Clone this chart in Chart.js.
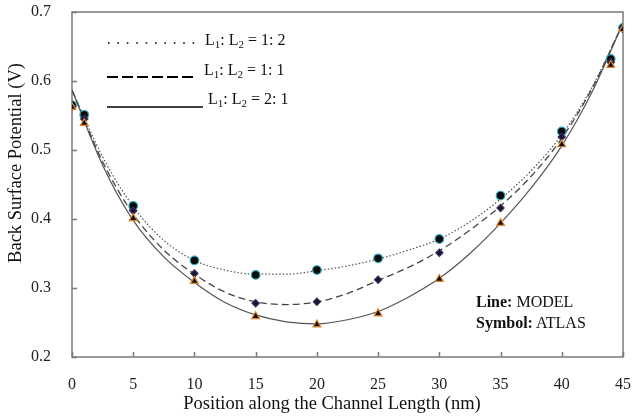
<!DOCTYPE html>
<html>
<head>
<meta charset="utf-8">
<script src="https://cdn.jsdelivr.net/npm/chart.js@4"></script>
<style>
  body { margin: 0; background: #fff; }
  #wrap { position: relative; width: 632px; height: 419px; font-family: "Liberation Serif", serif; color: #111; }
  #wrap canvas { position: absolute; left: 0; top: 0; }
  .ov { position: absolute; white-space: nowrap; line-height: 1; }
  .leg { font-size: 16px; transform: translateY(-50%); }
  .leg sub { font-size: 11px; vertical-align: -3px; }
  .note { font-size: 16px; transform: translateY(-50%); }
  .note b { font-weight: bold; }
  #xtitle { font-size: 18.5px; left: 332px; top: 403px; transform: translate(-50%, -50%); }
  #ytitle { font-size: 18.5px; left: 15px; top: 163px; transform: translate(-50%, -50%) rotate(-90deg); }
</style>
</head>
<body>
<div id="wrap">
  <canvas id="chartPotential"></canvas>
  <svg class="ov" style="left:0;top:0" width="632" height="419">
    <line x1="108" y1="43" x2="196" y2="43" stroke="#000" stroke-width="1.6" stroke-dasharray="1.6 7.8"/>
    <line x1="107" y1="77" x2="193" y2="77" stroke="#000" stroke-width="2" stroke-dasharray="11 4"/>
    <line x1="107" y1="107" x2="203" y2="107" stroke="#000" stroke-width="1.5"/>
  </svg>
  <div class="ov leg" style="left:205px;top:41px">L<sub>1</sub>: L<sub>2</sub> = 1: 2</div>
  <div class="ov leg" style="left:204px;top:71px">L<sub>1</sub>: L<sub>2</sub> = 1: 1</div>
  <div class="ov leg" style="left:208px;top:100px">L<sub>1</sub>: L<sub>2</sub> = 2: 1</div>
  <div class="ov note" style="left:476px;top:302px"><b>Line:</b> MODEL</div>
  <div class="ov note" style="left:476px;top:323px"><b>Symbol:</b> ATLAS</div>
  <div class="ov" id="xtitle">Position along the Channel Length (nm)</div>
  <div class="ov" id="ytitle">Back Surface Potential (V)</div>
</div>
<script>
// ATLAS simulation points (symbols)
var atlasX = [0, 1, 5, 10, 15, 20, 25, 30, 35, 40, 44, 45];
var atlas12 = [0.565, 0.551, 0.419, 0.340, 0.319, 0.326, 0.343, 0.371, 0.434, 0.527, 0.632, 0.677];
var atlas11 = [0.563, 0.545, 0.412, 0.321, 0.278, 0.280, 0.312, 0.351, 0.416, 0.519, 0.627, 0.676];
var atlas21 = [0.562, 0.539, 0.401, 0.310, 0.259, 0.247, 0.263, 0.313, 0.394, 0.508, 0.623, 0.675];

// model curves
var modelX = [0, 2.5, 5, 7.5, 10, 12.5, 15, 17.5, 20, 22.5, 25, 27.5, 30, 32.5, 35, 37.5, 40, 42.5, 45];
var model12 = [0.587, 0.490, 0.418, 0.369, 0.340, 0.326, 0.320, 0.320, 0.325, 0.332, 0.342, 0.355, 0.371, 0.396, 0.429, 0.470, 0.522, 0.592, 0.684];
var model11 = [0.587, 0.483, 0.407, 0.355, 0.320, 0.294, 0.280, 0.276, 0.280, 0.292, 0.311, 0.330, 0.354, 0.384, 0.419, 0.462, 0.517, 0.590, 0.684];
var model21 = [0.587, 0.478, 0.398, 0.345, 0.308, 0.279, 0.261, 0.251, 0.248, 0.254, 0.266, 0.287, 0.314, 0.350, 0.394, 0.445, 0.506, 0.585, 0.684];

var xTicks = [0, 5, 10, 15, 20, 25, 30, 35, 40, 45];
var yTicks = [0.2, 0.3, 0.4, 0.5, 0.6, 0.7];

function pts(xs, ys) {
    return xs.map(function (x, i) { return { x: x, y: ys[i] }; });
}

function modelSet(ys, dash, width, color) {
    return {
        data: pts(modelX, ys),
        showLine: true,
        borderColor: color,
        borderWidth: width,
        borderDash: dash,
        pointRadius: 0,
        cubicInterpolationMode: 'monotone',
        order: 5
    };
}

function atlasSet(ys, style, radius, fill, edge, order) {
    return {
        data: pts(atlasX, ys),
        showLine: false,
        pointStyle: style,
        pointRadius: radius,
        pointBackgroundColor: fill,
        pointBorderColor: edge,
        pointBorderWidth: 1.2,
        order: order
    };
}

// frame and inner ticks
var frame = {
    id: 'frame',
    beforeDatasetsDraw: function (chart) {
        var ctx = chart.ctx, a = chart.chartArea;
        var sx = chart.scales.x, sy = chart.scales.y;
        ctx.save();
        ctx.strokeStyle = '#7a7a7a';
        ctx.lineWidth = 1.5;
        ctx.strokeRect(a.left, a.top, a.right - a.left, a.bottom - a.top);
        ctx.beginPath();
        yTicks.forEach(function (v) {
            var p = Math.round(sy.getPixelForValue(v)) + 0.5;
            ctx.moveTo(a.left, p);
            ctx.lineTo(a.left + 5, p);
        });
        xTicks.forEach(function (v) {
            var p = Math.round(sx.getPixelForValue(v)) + 0.5;
            ctx.moveTo(p, a.bottom);
            ctx.lineTo(p, a.bottom - 5);
        });
        ctx.stroke();
        ctx.restore();
    }
};

var ctx = document.getElementById('chartPotential').getContext('2d');
var myChart = new Chart(ctx, {
    type: 'scatter',
    data: {
        datasets: [
            modelSet(model12, [1.5, 2], 1.2, '#555'),
            modelSet(model11, [7, 4], 1.3, '#444'),
            modelSet(model21, [], 1.2, '#555'),
            atlasSet(atlas12, 'circle', 4.3, '#0b0b0b', '#2aa9bb', 3),
            atlasSet(atlas11, 'rectRot', 3.6, '#1b1230', '#3b2d5c', 2),
            atlasSet(atlas21, 'triangle', 4.5, '#111', '#e0852a', 1)
        ]
    },
    options: {
        responsive: true,
        maintainAspectRatio: false,
        animation: false,
        layout: { padding: { left: 0, right: 9, top: 12, bottom: 0 } },
        plugins: {
            legend: { display: false },
            tooltip: { enabled: false }
        },
        scales: {
            x: {
                type: 'linear',
                min: 0,
                max: 45,
                afterFit: function (s) { s.height = 62; s.paddingLeft = 0; s.paddingRight = 0; },
                afterBuildTicks: function (s) { s.ticks = xTicks.map(function (v) { return { value: v }; }); },
                grid: { display: false },
                border: { display: false },
                ticks: {
                    padding: 10,
                    color: '#222',
                    font: { family: 'Liberation Serif', size: 16 },
                    maxRotation: 0
                }
            },
            y: {
                min: 0.2,
                max: 0.7,
                afterFit: function (s) { s.width = 72; s.paddingTop = 0; s.paddingBottom = 0; },
                afterBuildTicks: function (s) { s.ticks = yTicks.map(function (v) { return { value: v }; }); },
                grid: { display: false },
                border: { display: false },
                ticks: {
                    padding: 13,
                    color: '#222',
                    font: { family: 'Liberation Serif', size: 16 },
                    callback: function (v) { return v.toFixed(1); }
                }
            }
        }
    },
    plugins: [frame]
});
</script>
</body>
</html>
